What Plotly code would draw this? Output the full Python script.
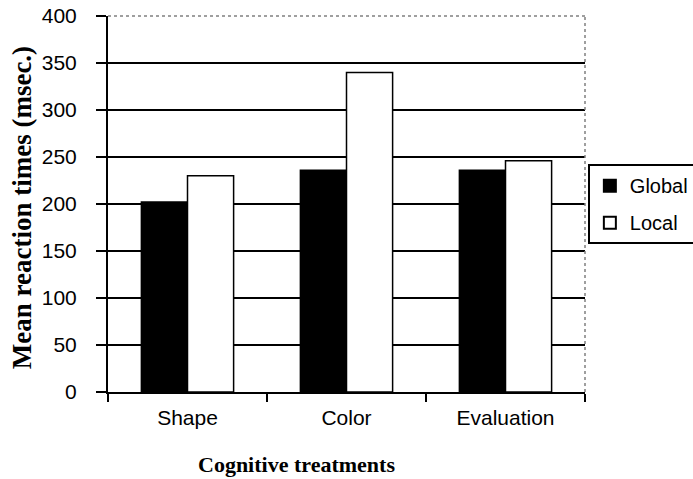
import plotly.graph_objects as go

categories = ["Shape", "Color", "Evaluation"]
global_rt = [202, 236, 236]
local_rt = [230, 340, 246]
y_ticks = [0, 50, 100, 150, 200, 250, 300, 350, 400]

fig = go.Figure()
fig.add_trace(go.Bar(name="Global", x=categories, y=global_rt, legendgroup="g",
                     marker=dict(color="black", line=dict(color="black", width=1.5))))
fig.add_trace(go.Bar(name="Local", x=categories, y=local_rt, legendgroup="l",
                     marker=dict(color="white", line=dict(color="black", width=1.5))))

fig.update_layout(
    width=693, height=479,
    margin=dict(l=108, r=108, t=16, b=87, autoexpand=False),
    paper_bgcolor="white", plot_bgcolor="white",
    barmode="group", bargap=0.42, bargroupgap=0,
    font=dict(family="Liberation Sans, Arial", size=21, color="black"),
    showlegend=True,
    legend=dict(x=1.006, y=0.606, xanchor="left", yanchor="top",
                bordercolor="black", borderwidth=2, bgcolor="white",
                font=dict(family="Liberation Sans, Arial", size=20, color="black"),
                itemsizing="constant", traceorder="grouped", tracegroupgap=8,
                itemwidth=30),
)
fig.update_xaxes(
    type="category", tickson="boundaries", ticks="outside", ticklen=8,
    tickwidth=1.5, tickcolor="black", showline=True, linecolor="black",
    linewidth=2, showgrid=False, zeroline=False, ticklabelstandoff=6,
    tickfont=dict(family="Liberation Sans, Arial", size=21, color="black"),
)
fig.update_yaxes(
    range=[0, 400], tickvals=y_ticks, ticks="outside", ticklen=10,
    tickwidth=1.5, tickcolor="black", showline=True, linecolor="black",
    linewidth=2, showgrid=True, gridcolor="black", gridwidth=1.5,
    zeroline=False, ticklabelstandoff=15,
    tickfont=dict(family="Liberation Sans, Arial", size=21, color="black"),
)
# dotted frame on top and right
fig.add_shape(type="line", xref="paper", yref="paper", x0=0, x1=1, y0=1, y1=1,
              line=dict(color="gray", width=1.5, dash="dot"))
fig.add_shape(type="line", xref="paper", yref="paper", x0=1, x1=1, y0=0, y1=1,
              line=dict(color="gray", width=1.5, dash="dot"))

fig.add_annotation(text="<b>Cognitive treatments</b>", xref="paper", yref="paper",
                   x=0.396, y=-0.194, showarrow=False, xanchor="center", yanchor="middle",
                   font=dict(family="Liberation Serif, Times New Roman", size=22, color="black"))
fig.add_annotation(text="<b>Mean reaction times (msec.)</b>", xref="paper", yref="paper",
                   x=-0.18, y=0.489, textangle=-90, showarrow=False,
                   xanchor="center", yanchor="middle",
                   font=dict(family="Liberation Serif, Times New Roman", size=27, color="black"))

fig.write_html("out.html", config={"displayModeBar": False},
               post_script="document.body.style.margin='0';")
